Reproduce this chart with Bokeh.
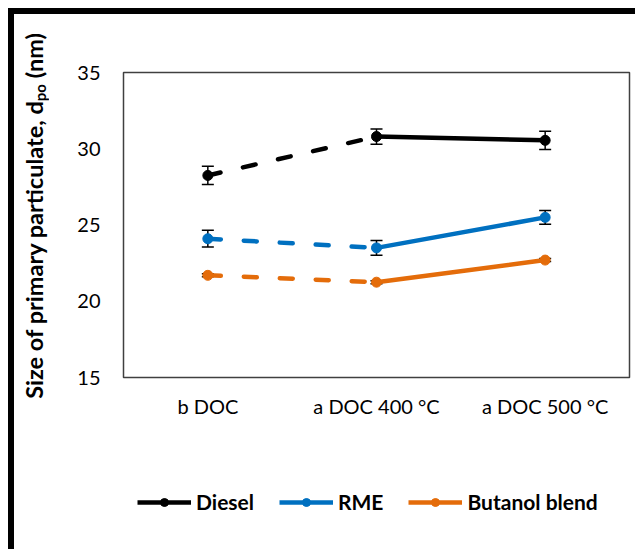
from bokeh.plotting import figure
from bokeh.models import (ColumnDataSource, FactorRange, Whisker, TeeHead,
                          Legend, LegendItem, FixedTicker, Div)
from bokeh.layouts import row, column
from bokeh.embed import file_html
from bokeh.resources import INLINE

# ---- data ----
categories = ["b DOC", "a DOC 400 °C", "a DOC 500 °C"]
series_names = ["Diesel", "RME", "Butanol blend"]
diesel = [28.25, 30.8, 30.55]
diesel_err = [0.6, 0.5, 0.6]
rme = [24.1, 23.5, 25.5]
rme_err = [0.55, 0.48, 0.45]
butanol = [21.7, 21.25, 22.7]
butanol_err = [0.1, 0.1, 0.1]
y_ticks = [15, 20, 25, 30, 35]
y_title_main = "Size of primary particulate, d"
y_title_sub = "po"
y_title_unit = " (nm)"
colors = ["#000000", "#0070C0", "#E46C0A"]

FONT = "Lato"

# y-axis title (longer than the plot frame, so it is drawn beside the figure)
title_html = (
    '<div style="display:inline-block; writing-mode:vertical-rl; '
    'transform:rotate(180deg); white-space:nowrap; margin-top:19px; margin-left:6px; '
    'font-family:Lato; font-weight:bold; font-size:23.5px; line-height:28px; color:black;">'
    f'{y_title_main}<sub style="font-size:15px;">{y_title_sub}</sub>{y_title_unit}</div>'
)
ytitle = Div(text=title_html, width=60, height=413, margin=0)

p = figure(x_range=FactorRange(*categories), y_range=(15, 35),
           width=561, height=413, output_backend="svg", toolbar_location=None,
           min_border_left=48, min_border_right=6, min_border_top=58,
           min_border_bottom=50, margin=0)

p.background_fill_color = "white"
p.border_fill_color = "white"
p.outline_line_color = "#404040"
p.outline_line_width = 1.5
p.xgrid.grid_line_color = None
p.ygrid.grid_line_color = None
p.x_range.range_padding = 0
p.x_range.factor_padding = 0

p.yaxis.ticker = FixedTicker(ticks=y_ticks)
for ax in (p.xaxis[0], p.yaxis[0]):
    ax.axis_line_color = None
    ax.major_tick_line_color = None
    ax.minor_tick_line_color = None
    ax.major_label_text_font = FONT
    ax.major_label_text_font_size = "20px"
    ax.major_label_text_color = "black"
p.yaxis.major_label_standoff = 17
p.xaxis.major_label_standoff = 10

# legend strip below the chart (proxy series lie outside its visible range)
pl = figure(width=621, height=122, x_range=FactorRange(*categories), y_range=(0, 1),
            output_backend="svg", toolbar_location=None, min_border=0, margin=0)
pl.xaxis.visible = False
pl.yaxis.visible = False
pl.xgrid.grid_line_color = None
pl.ygrid.grid_line_color = None
pl.outline_line_color = None
pl.background_fill_color = "white"
pl.border_fill_color = "white"

legend_items = []
for name, vals, errs, col in zip(series_names, [diesel, rme, butanol],
                                 [diesel_err, rme_err, butanol_err], colors):
    src = ColumnDataSource(dict(x=categories, y=vals,
                                lo=[v - e for v, e in zip(vals, errs)],
                                hi=[v + e for v, e in zip(vals, errs)]))
    p.line(x=categories[0:2], y=vals[0:2], line_color=col, line_width=4.5,
           line_dash="13 23", line_cap="round")
    p.line(x=categories[1:3], y=vals[1:3], line_color=col, line_width=4.5,
           line_cap="round")
    w = Whisker(source=src, base="x", lower="lo", upper="hi", dimension="height",
                line_color="black", line_width=1.5,
                upper_head=TeeHead(size=12, line_width=1.5, line_color="black"),
                lower_head=TeeHead(size=12, line_width=1.5, line_color="black"))
    p.add_layout(w)
    p.scatter(x="x", y="y", source=src, size=10, fill_color=col,
              line_color=col, marker="circle")
    # legend proxies in the legend strip
    lsrc = ColumnDataSource(dict(x=categories, y=vals))
    lr = pl.line(x="x", y="y", source=lsrc, line_color=col, line_width=4.5)
    sr = pl.scatter(x="x", y="y", source=lsrc, size=10, fill_color=col,
                    line_color=col, marker="circle")
    legend_items.append(LegendItem(label=name, renderers=[lr, sr]))

legend = Legend(items=legend_items, orientation="horizontal", location=(123, 35),
                glyph_width=54, glyph_height=20, label_height=20,
                label_standoff=5, spacing=25, padding=0, margin=0,
                border_line_color=None, background_fill_alpha=0,
                label_text_font=FONT, label_text_font_style="bold",
                label_text_font_size="21px", label_text_color="black")
pl.add_layout(legend, "center")

layout = column(row(ytitle, p, spacing=0), pl, spacing=0,
                styles={"margin-left": "8px", "margin-top": "8px",
                        "border-left": "6px solid black", "border-top": "6px solid black",
                        "background-color": "white"})

open("out.html", "w").write(file_html(layout, INLINE))
